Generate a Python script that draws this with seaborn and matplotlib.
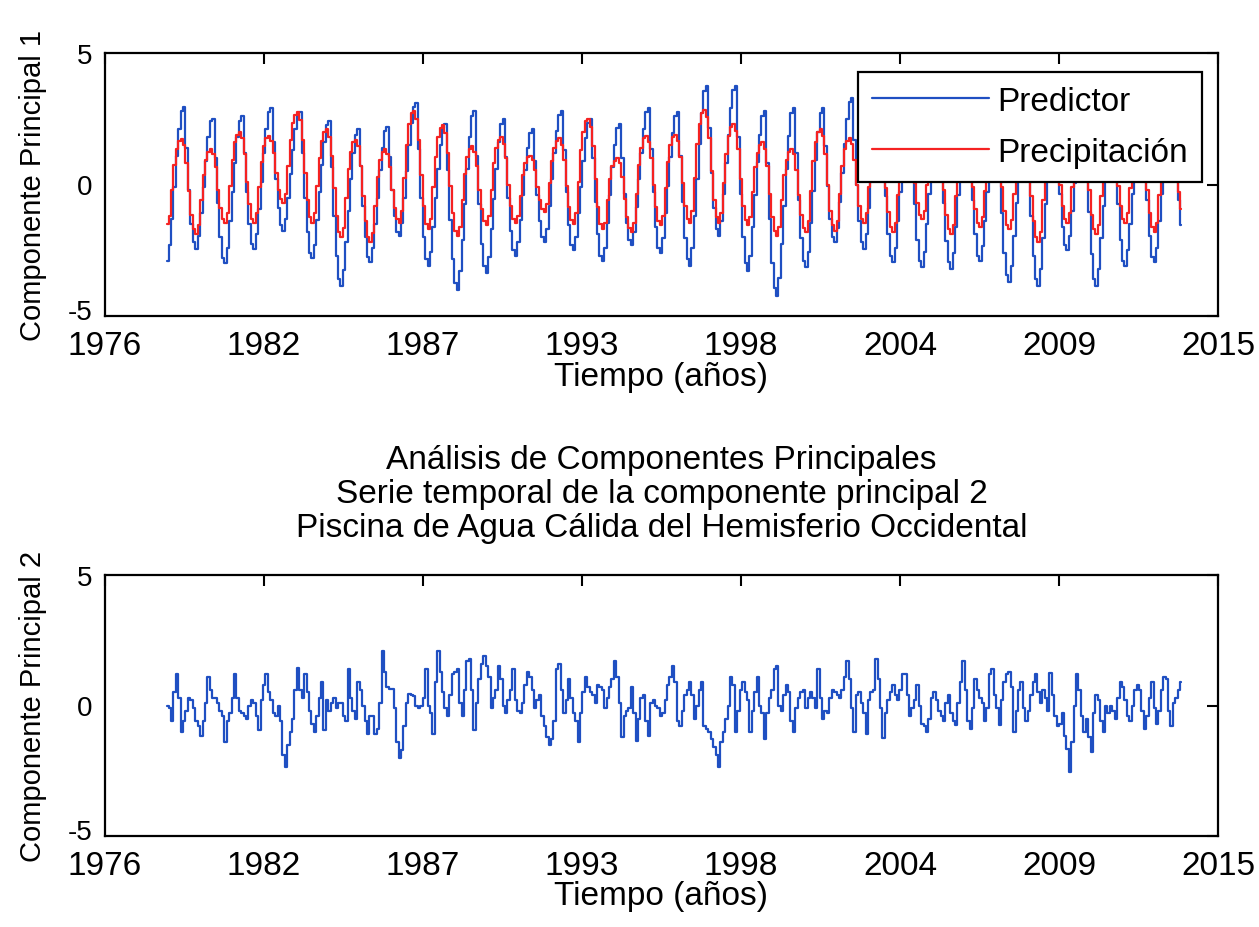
import numpy as np
import pandas as pd
import matplotlib
matplotlib.use("Agg")
import matplotlib.pyplot as plt
import matplotlib.dates as mdates
import matplotlib.transforms as mtransforms
from matplotlib import font_manager
import seaborn as sns

# ---------------- data (monthly) ----------------
fechas = pd.date_range("1978-12-01", periods=420, freq="MS")

predictor = [
    -2.9, -2.3, -1.3, -0.1, 1.1, 2.1, 2.8, 2.95, 1.4, -0.2, -1.5, -2.2,
    -2.45, -1.95, -1.1, -0.1, 0.9, 1.8, 2.4, 2.5, 1.0, -0.7, -2.0, -2.8,
    -3.0, -2.4, -1.4, -0.3, 0.8, 1.8, 2.4, 2.6, 1.2, -0.3, -1.5, -2.25,
    -2.45, -1.9, -0.95, 0.1, 1.2, 2.1, 2.75, 2.9, 1.6, 0.2, -0.9, -1.55,
    -1.75, -1.3, -0.5, 0.4, 1.3, 2.1, 2.6, 2.75, 1.2, -0.5, -1.8, -2.6,
    -2.8, -2.3, -1.35, -0.3, 0.75, 1.6, 2.25, 2.4, 0.65, -1.2, -2.7, -3.6,
    -3.85, -3.25, -2.2, -1.0, 0.2, 1.2, 1.9, 2.1, 0.7, -0.8, -2.0, -2.75,
    -2.95, -2.4, -1.5, -0.5, 0.55, 1.4, 2.05, 2.2, 1.05, -0.2, -1.2, -1.8,
    -1.95, -1.45, -0.5, 0.5, 1.5, 2.35, 2.95, 3.1, 1.35, -0.5, -2.0, -2.85,
    -3.1, -2.55, -1.6, -0.5, 0.6, 1.5, 2.15, 2.3, 0.55, -1.35, -2.85, -3.75,
    -4.0, -3.3, -2.1, -0.75, 0.6, 1.8, 2.6, 2.8, 1.1, -0.75, -2.25, -3.1,
    -3.35, -2.75, -1.7, -0.55, 0.6, 1.6, 2.3, 2.5, 1.05, -0.5, -1.75, -2.5,
    -2.7, -2.2, -1.35, -0.4, 0.55, 1.4, 1.95, 2.1, 0.9, -0.4, -1.4, -2.0,
    -2.2, -1.7, -0.8, 0.2, 1.2, 2.05, 2.65, 2.8, 1.3, -0.3, -1.55, -2.3,
    -2.5, -2.0, -1.1, -0.1, 0.9, 1.75, 2.35, 2.5, 1.0, -0.65, -1.9, -2.7,
    -2.9, -2.4, -1.45, -0.4, 0.65, 1.5, 2.15, 2.3, 1.0, -0.35, -1.45, -2.1,
    -2.3, -1.8, -0.85, 0.2, 1.2, 2.1, 2.75, 2.9, 1.35, -0.3, -1.6, -2.4,
    -2.6, -2.05, -1.1, -0.05, 1.05, 1.95, 2.6, 2.75, 1.1, -0.65, -2.05, -2.85,
    -3.1, -2.4, -1.2, 0.2, 1.55, 2.7, 3.55, 3.75, 2.15, 0.45, -0.9, -1.7,
    -1.95, -1.4, -0.35, 0.8, 1.9, 2.9, 3.6, 3.75, 1.8, -0.35, -2.0, -3.0,
    -3.3, -2.7, -1.6, -0.4, 0.85, 1.9, 2.6, 2.8, 0.8, -1.3, -3.0, -3.95,
    -4.25, -3.55, -2.25, -0.8, 0.6, 1.85, 2.7, 2.9, 1.2, -0.6, -2.05, -2.9,
    -3.15, -2.55, -1.45, -0.25, 0.95, 2.0, 2.7, 2.9, 1.45, -0.05, -1.3, -2.0,
    -2.2, -1.65, -0.65, 0.45, 1.55, 2.5, 3.15, 3.3, 1.7, 0.0, -1.4, -2.2,
    -2.45, -1.9, -0.9, 0.2, 1.25, 2.2, 2.85, 3.0, 1.35, -0.45, -1.9, -2.7,
    -2.95, -2.4, -1.4, -0.3, 0.8, 1.75, 2.45, 2.6, 1.0, -0.75, -2.1, -2.9,
    -3.15, -2.55, -1.5, -0.35, 0.8, 1.8, 2.5, 2.7, 1.05, -0.7, -2.15, -2.95,
    -3.2, -2.6, -1.6, -0.4, 0.75, 1.75, 2.45, 2.6, 1.05, -0.6, -1.9, -2.7,
    -2.9, -2.35, -1.4, -0.3, 0.8, 1.7, 2.35, 2.5, 0.75, -1.1, -2.6, -3.45,
    -3.7, -3.1, -1.95, -0.7, 0.5, 1.6, 2.3, 2.5, 0.75, -1.2, -2.7, -3.6,
    -3.85, -3.2, -2.05, -0.75, 0.55, 1.65, 2.4, 2.6, 1.2, -0.35, -1.6, -2.3,
    -2.5, -1.95, -1.0, 0.05, 1.1, 2.0, 2.65, 2.8, 0.95, -1.05, -2.65, -3.6,
    -3.85, -3.2, -2.05, -0.8, 0.45, 1.55, 2.3, 2.5, 0.95, -0.75, -2.1, -2.9,
    -3.1, -2.5, -1.5, -0.35, 0.8, 1.75, 2.45, 2.6, 1.05, -0.6, -1.95, -2.75,
    -2.95, -2.4, -1.4, -0.35, 0.75, 1.7, 2.35, 2.5, 1.3, 0.2, -0.6, -1.55,
]

precipitacion = [
    -1.5, -1.2, -0.2, 0.75, 1.35, 1.65, 1.73, 1.5, 0.8, -0.25, -1.15, -1.7,
    -1.9, -1.55, -0.6, 0.35, 0.95, 1.25, 1.35, 1.15, 0.65, -0.2, -0.9, -1.3,
    -1.45, -1.1, -0.05, 0.95, 1.6, 1.9, 2.0, 1.75, 1.15, 0.1, -0.75, -1.3,
    -1.45, -1.1, -0.1, 0.85, 1.45, 1.75, 1.85, 1.65, 1.2, 0.45, -0.2, -0.55,
    -0.7, -0.35, 0.7, 1.7, 2.35, 2.65, 2.75, 2.45, 1.7, 0.45, -0.6, -1.25,
    -1.45, -1.1, -0.05, 1.0, 1.65, 2.0, 2.1, 1.8, 1.1, -0.15, -1.2, -1.8,
    -2.0, -1.65, -0.5, 0.6, 1.25, 1.6, 1.7, 1.45, 0.7, -0.45, -1.4, -2.0,
    -2.2, -1.85, -0.8, 0.3, 0.95, 1.25, 1.35, 1.15, 0.65, -0.2, -0.9, -1.3,
    -1.45, -1.0, 0.25, 1.5, 2.3, 2.7, 2.8, 2.5, 1.7, 0.35, -0.8, -1.5,
    -1.7, -1.3, -0.1, 1.05, 1.8, 2.15, 2.25, 1.95, 1.2, -0.05, -1.1, -1.75,
    -1.95, -1.6, -0.6, 0.4, 1.05, 1.35, 1.45, 1.25, 0.7, -0.2, -0.95, -1.4,
    -1.55, -1.2, -0.2, 0.8, 1.4, 1.7, 1.8, 1.55, 1.0, 0.0, -0.8, -1.3,
    -1.45, -1.2, -0.45, 0.35, 0.8, 1.05, 1.1, 0.95, 0.55, -0.1, -0.6, -0.95,
    -1.05, -0.75, 0.05, 0.9, 1.4, 1.65, 1.75, 1.5, 0.95, -0.05, -0.85, -1.35,
    -1.5, -1.1, 0.1, 1.3, 2.0, 2.4, 2.5, 2.2, 1.45, 0.2, -0.85, -1.5,
    -1.7, -1.45, -0.6, 0.2, 0.7, 0.9, 1.0, 0.8, 0.3, -0.55, -1.25, -1.65,
    -1.8, -1.45, -0.35, 0.75, 1.4, 1.75, 1.85, 1.6, 1.0, 0.0, -0.85, -1.4,
    -1.55, -1.2, -0.15, 0.85, 1.5, 1.8, 1.9, 1.65, 1.05, 0.05, -0.8, -1.3,
    -1.45, -1.0, 0.25, 1.55, 2.3, 2.7, 2.85, 2.55, 1.75, 0.5, -0.6, -1.25,
    -1.45, -1.1, 0.05, 1.15, 1.85, 2.2, 2.3, 2.05, 1.35, 0.2, -0.8, -1.35,
    -1.55, -1.25, -0.3, 0.65, 1.2, 1.5, 1.6, 1.35, 0.7, -0.35, -1.25, -1.75,
    -1.95, -1.6, -0.6, 0.35, 0.95, 1.25, 1.35, 1.15, 0.55, -0.4, -1.15, -1.65,
    -1.8, -1.4, -0.25, 0.9, 1.6, 2.0, 2.1, 1.85, 1.15, 0.0, -1.0, -1.55,
    -1.75, -1.4, -0.35, 0.7, 1.35, 1.65, 1.75, 1.55, 0.95, 0.0, -0.8, -1.3,
    -1.45, -1.1, -0.1, 0.9, 1.5, 1.8, 1.9, 1.65, 1.0, -0.15, -1.05, -1.6,
    -1.8, -1.45, -0.4, 0.65, 1.3, 1.6, 1.7, 1.5, 0.95, 0.05, -0.7, -1.15,
    -1.3, -1.0, 0.0, 0.95, 1.5, 1.8, 1.9, 1.65, 0.95, -0.2, -1.15, -1.7,
    -1.9, -1.55, -0.45, 0.6, 1.25, 1.6, 1.7, 1.45, 0.9, -0.1, -0.95, -1.45,
    -1.6, -1.25, -0.25, 0.8, 1.4, 1.7, 1.8, 1.55, 0.95, -0.1, -1.0, -1.55,
    -1.7, -1.35, -0.35, 0.7, 1.3, 1.6, 1.7, 1.45, 0.7, -0.45, -1.4, -2.0,
    -2.2, -1.8, -0.6, 0.6, 1.3, 1.7, 1.8, 1.55, 1.0, 0.0, -0.8, -1.3,
    -1.45, -1.1, -0.1, 0.9, 1.5, 1.8, 1.9, 1.65, 0.95, -0.2, -1.15, -1.7,
    -1.9, -1.55, -0.45, 0.6, 1.25, 1.6, 1.7, 1.5, 0.9, -0.05, -0.8, -1.3,
    -1.45, -1.1, -0.15, 0.8, 1.4, 1.7, 1.8, 1.55, 0.9, -0.2, -1.1, -1.6,
    -1.8, -1.45, -0.4, 0.7, 1.35, 1.7, 1.8, 1.6, 1.1, 0.4, -0.3, -0.95,
]

componente2 = [
    0.0, -0.1, -0.6, 0.5, 1.2, 0.3, -1.0, -0.6, -0.2, 0.3, 0.2, -0.1,
    -0.6, -0.8, -1.15, -0.6, 0.1, 1.1, 0.6, 0.3, 0.3, 0.1, -0.2, -0.4,
    -1.4, -0.6, -0.3, 0.3, 1.2, 0.3, -0.2, -0.3, -0.4, -0.5, 0.0, 0.2,
    0.1, -0.4, -0.95, 0.2, 0.8, 1.2, 0.5, 0.2, -0.3, -0.4, 0.0, -0.6,
    -1.9, -2.35, -1.5, -1.0, -0.5, 0.6, 1.45, 0.6, 0.3, 1.2, 0.5, -0.2,
    -0.7, -1.0, -0.4, 0.3, 0.9, -0.95, 0.2, -0.2, 0.1, 0.3, -0.1, 0.1,
    0.1, -0.4, -0.6, 1.4, 0.3, -0.2, -0.5, 0.9, 0.6, 0.0, -0.6, -1.1,
    -0.4, -0.4, -1.1, -0.9, 0.1, 2.1, 1.3, 0.7, 0.65, 0.65, -0.1, -1.4,
    -2.0, -1.7, -0.8, 0.1, 0.45, 0.4, 0.35, 0.0, -0.1, 0.0, 0.3, 1.4,
    0.0, -0.3, -1.1, 0.9, 2.1, 1.3, 0.5, -0.1, -0.4, 0.4, 1.2, 1.3,
    1.4, 0.1, -0.4, 0.6, 1.7, 1.8, 0.6, -0.95, 0.1, 1.0, 1.6, 1.9,
    1.5, 1.1, -0.1, 0.3, 0.6, 1.5, 1.0, 0.0, -0.3, 0.2, 0.6, 1.4,
    0.2, -0.2, -0.3, 0.1, 0.8, 1.3, 1.1, 0.6, -0.1, 0.2, 0.4, -0.4,
    -0.8, -1.2, -1.5, -1.3, -0.6, 1.4, 1.6, 0.6, -0.3, 0.2, 1.0, 0.3,
    -0.3, -0.6, -1.4, -0.3, 0.5, 1.1, 0.7, 0.5, 0.4, 0.1, 0.8, 0.7,
    0.6, -0.1, 0.3, 0.7, 1.0, 1.7, 1.1, 0.1, -1.2, -0.4, -0.2, -0.1,
    0.7, -0.3, -1.35, -0.5, 0.3, 0.4, -0.6, -1.15, 0.1, 0.2, 0.0, -0.1,
    -0.4, -0.3, 0.2, 0.8, 1.1, 1.5, 0.9, -0.6, -0.8, -0.2, 0.4, 0.6,
    0.9, 0.4, -0.5, 0.0, 0.6, 0.9, -0.8, -0.9, -1.0, -1.3, -1.6, -1.9,
    -2.35, -1.4, -1.0, -0.5, 0.0, 1.1, 0.8, -1.0, -0.2, 0.6, 0.9, 0.5,
    0.2, -1.0, -0.2, 0.5, 1.1, 0.0, -0.3, -1.3, -0.3, 0.3, 0.6, 1.4,
    1.5, 0.0, -0.2, 0.4, 0.8, 0.5, -0.6, -1.0, -0.1, 0.3, 0.5, 0.6,
    -0.1, 0.3, 0.5, 0.3, -0.1, 1.4, 0.3, -0.5, -0.2, -0.3, 0.3, 0.6,
    0.5, 0.4, 0.3, 0.6, 1.1, 1.7, 1.0, -0.1, -1.0, 0.4, 0.5, 0.1,
    -0.3, -1.1, 0.2, 0.5, 0.6, 1.8, 1.0, -0.1, -1.25, -0.3, 0.2, 0.5,
    0.8, 0.4, 0.2, 0.6, 1.2, 1.2, 0.4, -0.4, -0.1, 0.2, 0.8, 0.0,
    -0.7, -0.8, -1.0, -0.5, 0.3, 0.5, 0.2, -0.2, -0.4, -0.6, 0.1, 0.4,
    -0.3, -0.6, -0.75, 0.1, 0.9, 1.7, 0.6, -0.6, -0.9, -0.1, 1.0, 0.6,
    0.3, 0.1, -0.6, -0.1, 1.2, 1.4, 0.4, -0.1, -0.75, 0.2, 0.9, 1.2,
    1.3, 0.7, -1.0, -0.2, 0.6, 0.9, -0.1, -0.6, -0.2, 0.4, 0.9, 1.2,
    0.5, 0.1, 0.6, 0.3, -0.2, 1.25, 0.4, -0.4, -0.8, -0.7, -0.3, -1.15,
    -1.65, -2.55, -1.4, 0.0, 1.2, 0.6, -0.4, -1.0, -0.5, -1.2, -1.8, -0.3,
    0.4, 0.2, -0.6, -1.0, 0.0, -0.3, 0.0, -0.2, -0.5, 0.3, 0.9, 0.7,
    0.2, -0.4, -0.6, 0.0, 0.6, 0.8, 0.6, -0.2, -0.9, -0.4, 0.3, 0.9,
    -0.1, -0.7, -0.2, 0.6, 1.1, 1.0, -0.2, -0.8, 0.1, 0.3, 0.6, 0.9,
]

etiquetas_serie = ["Predictor", "Precipitación"]
ylabel_1 = "Componente Principal 1"
ylabel_2 = "Componente Principal 2"
xlabel = "Tiempo (años)"
titulo_2 = ("Análisis de Componentes Principales\n"
            "Serie temporal de la componente principal 2\n"
            "Piscina de Agua Cálida del Hemisferio Occidental")
# x ticks: MATLAB datenum 722000..736000 step 2000 -> days since 1970-01-01
xtick_dias = [2471, 4471, 6471, 8471, 10471, 12471, 14471, 16471]
yticks = [-5, 0, 5]

# ---------------- style ----------------
sns.set_style("white")
nombres = {f.name for f in font_manager.fontManager.ttflist}
if "Liberation Sans Narrow" in nombres:
    FAM = ["Liberation Sans Narrow", "DejaVu Sans"]
    FS, FS_Y, FS_YL = 27, 24, 23
else:
    FAM = ["Liberation Sans", "DejaVu Sans"]
    FS, FS_Y, FS_YL = 24, 20, 21
plt.rcParams["font.family"] = FAM
plt.rcParams["axes.unicode_minus"] = False
for k in ("text.color", "axes.labelcolor", "xtick.color", "ytick.color"):
    plt.rcParams[k] = "black"

AZUL = "#1f4fc2"
ROJO = "#f52222"

df = pd.DataFrame({"fecha": fechas, "Predictor": predictor,
                   "Precipitación": precipitacion, "CP2": componente2})

W, H = 1259, 928
fig = plt.figure(figsize=(W / 100, H / 100), dpi=100)
ax1 = fig.add_axes([105 / W, 1 - 317 / H, 1113 / W, 263 / H])
ax2 = fig.add_axes([105 / W, 1 - 837 / H, 1113 / W, 261 / H])

sns.lineplot(data=df, x="fecha", y="Predictor", ax=ax1, color=AZUL,
             lw=1.6, label=etiquetas_serie[0], estimator=None,
             drawstyle="steps-mid")
sns.lineplot(data=df, x="fecha", y="Precipitación", ax=ax1, color=ROJO,
             lw=1.6, label=etiquetas_serie[1], estimator=None,
             drawstyle="steps-mid")
sns.lineplot(data=df, x="fecha", y="CP2", ax=ax2, color=AZUL,
             lw=1.6, estimator=None, legend=False, drawstyle="steps-mid")

subir = mtransforms.ScaledTranslation(0, 5 / 72, fig.dpi_scale_trans)

for ax, yl in ((ax1, ylabel_1), (ax2, ylabel_2)):
    ax.set_xlim(xtick_dias[0], xtick_dias[-1])
    ax.set_xticks(xtick_dias)
    ax.xaxis.set_major_formatter(mdates.DateFormatter("%Y"))
    ax.set_ylim(-5, 5)
    ax.set_yticks(yticks)
    ax.set_yticklabels([str(v) for v in yticks])
    ax.tick_params(direction="in", length=8, width=1.5, top=True, right=True,
                   colors="black")
    ax.tick_params(axis="x", labelsize=FS, pad=10)
    ax.tick_params(axis="y", labelsize=FS_Y, pad=9)
    # lift the bottom "-5" label a little so it sits just above the year labels
    lbl = ax.yaxis.get_major_ticks()[0].label1
    lbl.set_transform(lbl.get_transform() + subir)
    for s in ax.spines.values():
        s.set_linewidth(1.6)
        s.set_color("black")
    ax.set_xlabel(xlabel, fontsize=FS)
    ax.set_ylabel(yl, fontsize=FS_YL)
    ax.xaxis.set_label_coords(0.5, -0.17)
    ax.yaxis.set_label_coords(-0.052, 0.5)
    ax.grid(False)

ax2.set_title(titulo_2, fontsize=FS, pad=28, linespacing=1.12)

leg = ax1.legend(loc="upper right", bbox_to_anchor=(0.9856, 0.928),
                 borderaxespad=0, frameon=True, fancybox=False,
                 edgecolor="black", framealpha=1, fontsize=FS,
                 handlelength=3.5, handletextpad=0.25, borderpad=0.42,
                 labelspacing=0.6)
leg.get_frame().set_linewidth(1.6)
for h in leg.get_lines():
    h.set_linewidth(1.6)

fig.savefig("out.png", dpi=100, facecolor="white")
